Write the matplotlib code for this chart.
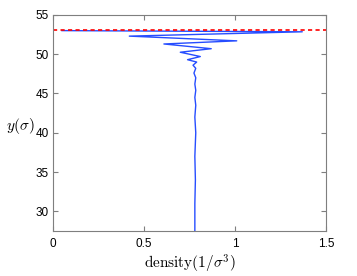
import matplotlib
matplotlib.use("Agg")
import matplotlib.pyplot as plt

plt.rcParams['font.family'] = ['Liberation Sans', 'DejaVu Sans']
plt.rcParams['mathtext.fontset'] = 'cm'

# density profile
y_pos = [53.0, 52.85, 52.3, 51.7, 51.3, 50.7, 50.25, 49.7, 49.3, 49.0, 48.6,
         48.2, 47.6, 47.0, 46.2, 45.4, 44.5, 43.5, 42.0, 40.0, 37.0, 34.0,
         31.0, 27.5]
density = [0.05, 1.37, 0.42, 1.01, 0.61, 0.87, 0.70, 0.81, 0.74, 0.79, 0.77,
           0.785, 0.775, 0.785, 0.78, 0.785, 0.78, 0.785, 0.78, 0.785, 0.78,
           0.783, 0.78, 0.78]
wall_y = 53.1

fig = plt.figure(figsize=(3.57, 2.76), dpi=100)
ax = fig.add_axes([0.148, 0.163, 0.765, 0.783])

ax.plot(density, y_pos, color=(0.15, 0.3, 1.0), lw=1.0)
ax.axhline(wall_y, color="red", ls="--", lw=1.2, dashes=(2.5, 2))

ax.set_xlim(0, 1.5)
ax.set_ylim(27.5, 55)
ax.set_xticks([0, 0.5, 1, 1.5])
ax.set_xticklabels(["0", "0.5", "1", "1.5"])
ax.set_yticks([30, 35, 40, 45, 50, 55])

for s in ax.spines.values():
    s.set_color("#7f7f7f")
    s.set_linewidth(0.8)
ax.tick_params(direction="in", top=True, right=True, length=3.5,
               color="#7f7f7f", labelsize=8.5, pad=3)
ax.tick_params(axis="x", pad=5)

ax.set_xlabel(r"$\mathrm{density}(1/\sigma^3)$", fontsize=11, labelpad=2)
ax.set_ylabel(r"$y(\sigma)$", fontsize=11, rotation=0)
ax.yaxis.set_label_coords(-0.118, 0.44)

fig.savefig("out.png", dpi=100)
